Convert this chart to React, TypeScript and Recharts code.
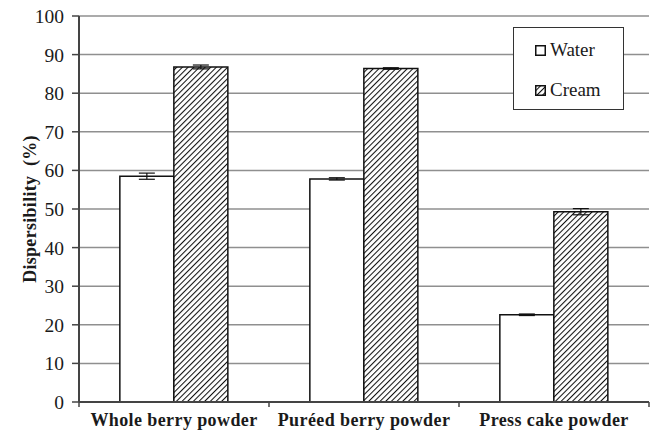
import { BarChart, Bar, XAxis, YAxis, CartesianGrid, Legend, ErrorBar } from 'recharts';

const categories = ['Whole berry powder', 'Puréed berry powder', 'Press cake powder'];
const water = [58.5, 57.8, 22.6];
const waterErr = [0.8, 0.3, 0.2];
const cream = [86.8, 86.4, 49.3];
const creamErr = [0.5, 0.2, 0.8];
const yTicks = [0, 10, 20, 30, 40, 50, 60, 70, 80, 90, 100];

const data = categories.map((name, i) => ({
  name,
  water: water[i],
  waterErr: waterErr[i],
  cream: cream[i],
  creamErr: creamErr[i],
}));

const font = '"Liberation Serif", serif';

const YLabel = (props: any) => {
  const { x, y, height } = props.viewBox;
  const cx = x + 30;
  const cy = y + height / 2;
  return (
    <text
      x={cx}
      y={cy}
      transform={`rotate(-90, ${cx}, ${cy})`}
      textAnchor="middle"
      dominantBaseline="central"
      style={{ fontFamily: font, fontWeight: 'bold', fontSize: 18, letterSpacing: 0.3, whiteSpace: 'pre' }}
      fill="#1a1a1a"
    >
      Dispersibility  (%)
    </text>
  );
};

const XTick = (props: any) => {
  const { x, y, payload, index, width, visibleTicksCount } = props;
  const band = width / visibleTicksCount;
  const left = x - band / 2;
  const right = x + band / 2;
  return (
    <g>
      <line x1={left} y1={y - 8} x2={left} y2={y - 3} stroke="#444" strokeWidth={1.5} />
      {index === visibleTicksCount - 1 && (
        <line x1={right} y1={y - 8} x2={right} y2={y - 3} stroke="#444" strokeWidth={1.5} />
      )}
      <text
        x={x}
        y={y}
        dy="0.9em"
        textAnchor="middle"
        style={{ fontFamily: font, fontWeight: 'bold', fontSize: 18, letterSpacing: 0.4 }}
        fill="#1a1a1a"
      >
        {payload.value}
      </text>
    </g>
  );
};

const LegendBox = () => (
  <div
    style={{
      width: 109,
      height: 81,
      border: '1.5px solid #333',
      background: '#fff',
      fontFamily: font,
      fontSize: 19,
      color: '#1a1a1a',
    }}
  >
    {[
      { label: 'Water', fill: '#fff' },
      { label: 'Cream', fill: 'url(#hatch)' },
    ].map((e, i) => (
      <div key={e.label} style={{ display: 'flex', alignItems: 'center', marginLeft: 21, marginTop: i === 0 ? 11 : 18, height: 22 }}>
        <svg width={11} height={11} style={{ marginRight: 4 }}>
          <rect x={0.75} y={0.75} width={9.5} height={9.5} fill={e.fill} stroke="#111" strokeWidth={1.5} />
        </svg>
        <span>{e.label}</span>
      </div>
    ))}
  </div>
);

export default function App() {
  return (
    <div style={{ position: 'absolute', left: 0, top: 0, background: '#fff' }}>
      <BarChart
        width={654}
        height={439}
        data={data}
        margin={{ top: 16, right: 5, bottom: 0, left: 0 }}
        barCategoryGap="21.5%"
        barGap={0}
      >
        <defs>
          <pattern id="hatch" patternUnits="userSpaceOnUse" width={4} height={4} patternTransform="rotate(45)">
            <rect width={4} height={4} fill="#fff" />
            <line x1={0} y1={0} x2={0} y2={4} stroke="#111" strokeWidth={2.1} />
          </pattern>
        </defs>
        <CartesianGrid vertical={false} stroke="#8f8f8f" strokeWidth={1.5} />
        <XAxis
          dataKey="name"
          height={37}
          axisLine={{ stroke: '#444', strokeWidth: 2 }}
          tickLine={false}
          tickSize={0}
          tickMargin={8}
          tick={<XTick />}
          interval={0}
        />
        <XAxis xAxisId="top" orientation="top" dataKey="name" height={0} tick={false} tickLine={false} axisLine={{ stroke: '#444', strokeWidth: 2 }} />
        <YAxis
          width={79}
          domain={[0, 100]}
          ticks={yTicks}
          interval={0}
          axisLine={{ stroke: '#444', strokeWidth: 2 }}
          tickLine={{ stroke: '#444', strokeWidth: 1.5 }}
          tickSize={7}
          tickMargin={8}
          tick={{ fontFamily: font, fontSize: 19.5, fill: '#1a1a1a' }}
          label={<YLabel />}
        />
        <YAxis yAxisId="right" orientation="right" width={0} domain={[0, 100]} tick={false} tickLine={false} axisLine={{ stroke: '#444', strokeWidth: 2 }} />
        <Legend
          content={<LegendBox />}
          layout="horizontal"
          verticalAlign="middle"
          wrapperStyle={{ position: 'absolute', left: 513, top: 27, width: 112, height: 84 }}
        />
        <Bar dataKey="water" name="Water" fill="#fff" stroke="#111" strokeWidth={1.5} isAnimationActive={false}>
          <ErrorBar dataKey="waterErr" width={8} stroke="#111" strokeWidth={1.2} direction="y" />
        </Bar>
        <Bar dataKey="cream" name="Cream" fill="url(#hatch)" stroke="#111" strokeWidth={1.5} isAnimationActive={false}>
          <ErrorBar dataKey="creamErr" width={8} stroke="#111" strokeWidth={1.2} direction="y" />
        </Bar>
      </BarChart>
    </div>
  );
}
